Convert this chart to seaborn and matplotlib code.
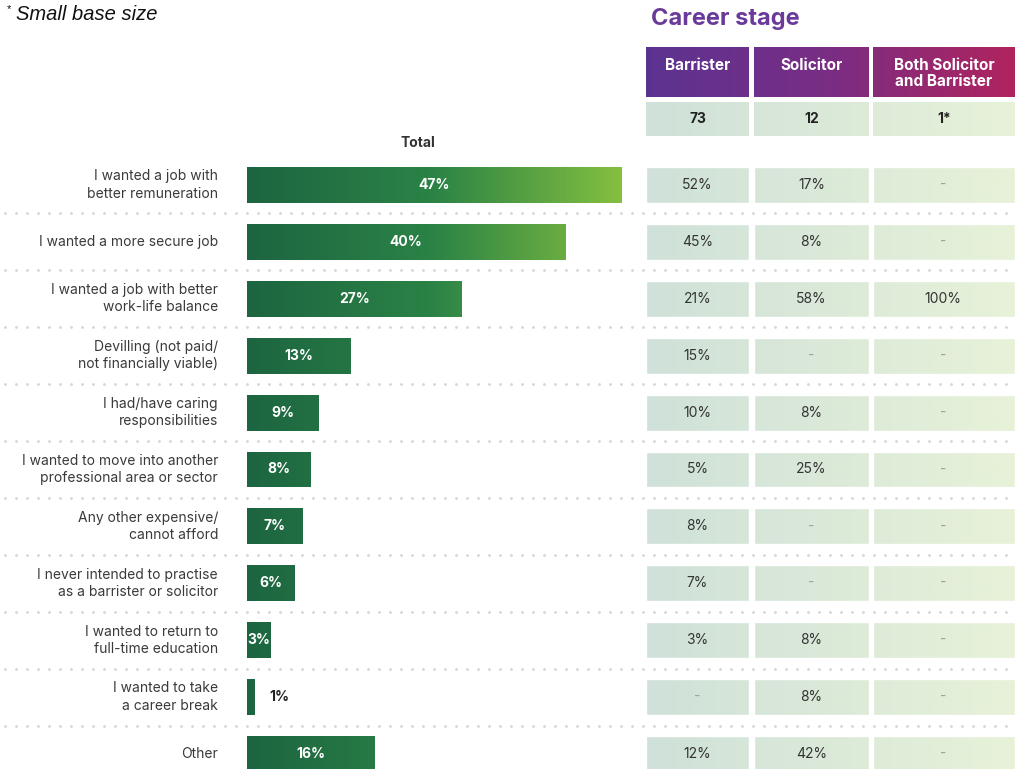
import numpy as np
import pandas as pd
import seaborn as sns
import matplotlib.pyplot as plt
from matplotlib.colors import LinearSegmentedColormap

# data
reasons = [
    "I wanted a job with\nbetter remuneration",
    "I wanted a more secure job",
    "I wanted a job with better\nwork-life balance",
    "Devilling (not paid/\nnot financially viable)",
    "I had/have caring\nresponsibilities",
    "I wanted to move into another\nprofessional area or sector",
    "Any other expensive/\ncannot afford",
    "I never intended to practise\nas a barrister or solicitor",
    "I wanted to return to\nfull-time education",
    "I wanted to take\na career break",
    "Other",
]
total = [47, 40, 27, 13, 9, 8, 7, 6, 3, 1, 16]
barrister = [52, 45, 21, 15, 10, 5, 8, 7, 3, None, 12]
solicitor = [17, 8, 58, None, 8, 25, None, None, 8, 8, 42]
both = [None, None, 100, None, None, None, None, None, None, None, None]
stages = ["Barrister", "Solicitor", "Both Solicitor\nand Barrister"]
bases = ["73", "12", "1*"]

df = pd.DataFrame({"reason": reasons, "total": total})
cols = [barrister, solicitor, both]

sns.set_theme(style="white")
plt.rcParams["font.family"] = ["Inter", "DejaVu Sans"]

W, H = 1015, 769
fig = plt.figure(figsize=(W / 100, H / 100), dpi=100)

# layout (pixels)
n = len(reasons)
row0, step = 185, 56.9
top_px = row0 - step / 2
bot_px = row0 + step * (n - 1) + step / 2
px_per_pct = 7.96
bar_h = 0.63

def fy(p):
    return 1 - p / H

def ry(p):
    # pixel y -> row units
    return (p - row0) / step

# full width axes for bars, labels and separators
ax = fig.add_axes([0, fy(bot_px), 1, (bot_px - top_px) / H])
x0 = -247 / px_per_pct
x1 = (W - 247) / px_per_pct
sns.barplot(data=df, y="reason", x="total", orient="h", color="#2e7d4a",
            width=bar_h, ax=ax)
ax.set_xlim(x0, x1)
ax.set_ylim(n - 0.5, -0.5)
ax.axis("off")

green = LinearSegmentedColormap.from_list("g", ["#1d6541", "#2b8346", "#84bf3f"])
grad = np.linspace(0, 1, 256).reshape(1, -1)
for p in ax.patches:
    p.set_facecolor("none")
    p.set_edgecolor("none")
    im = ax.imshow(grad, cmap=green, aspect="auto",
                   extent=[0, 47, n - 0.5, -0.5], zorder=2)
    im.set_clip_path(p)
ax.set_xlim(x0, x1)
ax.set_ylim(n - 0.5, -0.5)

dots = np.arange(x0 + 0.6, x1, 11 / px_per_pct)
for i, (r, v) in enumerate(zip(reasons, total)):
    ax.text(-29 / px_per_pct, i, r, ha="right", va="center", fontsize=10,
            color="#3a3a3a", linespacing=1.3)
    if v < 2:
        ax.text(v + 14 / px_per_pct, i, f"{v}%", ha="left", va="center",
                fontsize=10, fontweight="bold", color="#222222")
    else:
        ax.text(v / 2, i, f"{v}%", ha="center", va="center", fontsize=10,
                fontweight="bold", color="white", zorder=3)
    if i < n - 1:
        ax.plot(dots, [i + 0.5] * len(dots), ls="none", marker="o", ms=1.0,
                color="#d6d6d6")

ax.text(21.5, ry(143), "Total", ha="center", va="center", fontsize=10,
        fontweight="bold", color="#333333", clip_on=False)

# table axes (pixel units in x)
col_left = [646, 754, 873]
col_w = [103, 115, 142]
tab = fig.add_axes([0, fy(bot_px), 1, (bot_px - top_px) / H], facecolor="none")
tab.set_xlim(0, W)
tab.set_ylim(n - 0.5, -0.5)
tab.axis("off")

pale = LinearSegmentedColormap.from_list("p", ["#cfe1d9", "#dbe9d8", "#e7f2d8"])
purple = LinearSegmentedColormap.from_list("u", ["#5c3391", "#7a2d84", "#b0245e"])

cells = []
for j, vals in enumerate(cols):
    bars = tab.barh(range(n), [col_w[j]] * n, left=col_left[j], height=bar_h,
                    color="none")
    cells.extend(bars.patches)
    for i, v in enumerate(vals):
        txt = "-" if v is None else f"{v}%"
        tab.text(col_left[j] + col_w[j] / 2 - (1 if j == 2 else 0), i, txt,
                 ha="center", va="center", fontsize=10,
                 color="#a0a0a0" if v is None else "#333333")

# base row and header
bb = tab.barh([ry(119)] * 3, col_w, left=col_left, height=34 / step,
              color="none")
hb = tab.barh([ry(72)] * 3, col_w, left=col_left, height=50 / step,
              color="none")
for j in range(3):
    tab.text(col_left[j] + col_w[j] / 2, ry(119), bases[j],
             ha="center", va="center", fontsize=10, fontweight="bold",
             color="#222222")
    tab.text(col_left[j] + col_w[j] / 2, ry(58), stages[j],
             ha="center", va="top", fontsize=11, fontweight="bold",
             color="white", linespacing=1.05)

for p in cells + list(bb.patches):
    im = tab.imshow(grad, cmap=pale, aspect="auto",
                    extent=[646, W, n - 0.5, -4], zorder=0)
    im.set_clip_path(p)
for p in hb.patches:
    im = tab.imshow(grad, cmap=purple, aspect="auto",
                    extent=[646, W, n - 0.5, -4], zorder=0)
    im.set_clip_path(p)
tab.set_xlim(0, W)
tab.set_ylim(n - 0.5, -0.5)

fig.text(651 / W, fy(19), "Career stage", ha="left", va="center",
         fontsize=17, fontweight="bold", color="#6a3a9a")
fig.text(7 / W, fy(9), "*", ha="left", va="center", fontsize=8,
         family="Liberation Sans", color="#111111")
fig.text(16 / W, fy(15), "Small base size", ha="left", va="center",
         fontsize=14.5, style="italic", family="Liberation Sans",
         color="#111111")

fig.savefig("out.png", dpi=100)
